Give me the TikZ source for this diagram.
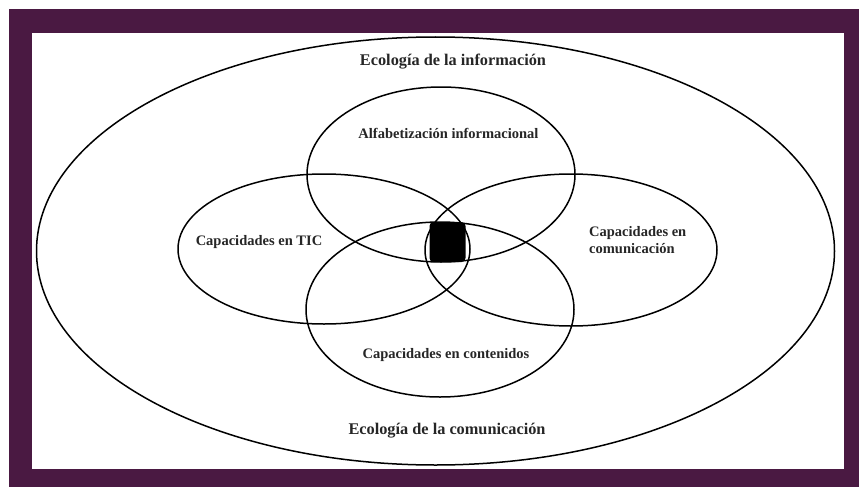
\documentclass[tikz,border=0pt]{standalone}
\usepackage{fontspec}
\setmainfont{Liberation Serif}
\usetikzlibrary{shapes.geometric}
\definecolor{framepurple}{HTML}{4A1942}
\begin{document}
\begin{tikzpicture}[x=1pt,y=-1pt,
  ring/.style={draw=black,ellipse,line width=1.5pt,inner sep=0pt},
  lbl/.style={font=\bfseries\fontsize{14.5}{17}\selectfont,text=black!85,inner sep=0pt},
  biglbl/.style={font=\bfseries\fontsize{16.3}{19}\selectfont,text=black!85,inner sep=0pt}]
\useasboundingbox (0,0) rectangle (859,487);
\fill[white] (0,0) rectangle (859,487);
\fill[framepurple] (9,9) rectangle (859,487);
\fill[white] (32,33) rectangle (844,469);
% outer ellipse
\node[ring,minimum width=798pt,minimum height=428pt] (outer) at (435.5,251) {};
% four ellipses
\node[ring,minimum width=268pt,minimum height=175pt] (top) at (441,174.5) {};
\node[ring,minimum width=292pt,minimum height=150pt] (left) at (324,249) {};
\node[ring,minimum width=292pt,minimum height=152pt] (right) at (571,250) {};
\node[ring,minimum width=268pt,minimum height=175pt] (bottom) at (440,309.5) {};
% central black region
\node[fill=black,rounded corners=4pt,minimum width=36pt,minimum height=40pt,inner sep=0pt] (core) at (447.5,242) {};
% labels
\node[biglbl] (t1) at (453,62) {Ecología de la información};
\node[lbl] (t2) at (448.5,133) {Alfabetización informacional};
\node[lbl] (t3) at (259,242) {Capacidades en TIC};
\node[lbl,anchor=west,align=left] (t4) at (589,240.5) {Capacidades en\\comunicación};
\node[lbl] (t5) at (446,355) {Capacidades en contenidos};
\node[biglbl] (t6) at (447,431) {Ecología de la comunicación};
\end{tikzpicture}
\end{document}
